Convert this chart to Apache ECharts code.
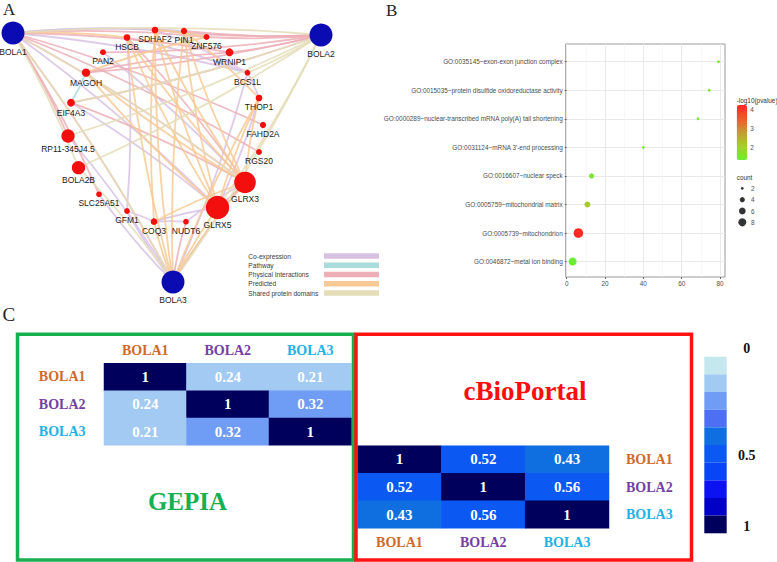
<!DOCTYPE html>
<html><head><meta charset="utf-8">
<script src="https://cdn.jsdelivr.net/npm/echarts@6/dist/echarts.min.js"></script>
<style>html,body{margin:0;padding:0;background:#fff}#c{width:777px;height:562px}</style>
</head><body><div id="c"></div>
<script>
// ---------------- Panel A : gene network ----------------
const netNodes = ['BOLA1','BOLA2','BOLA3','SDHAF2','PIN1','ZNF576','HSCB','WRNIP1','PAN2','BCS1L','MAGOH','THOP1','EIF4A3','FAHD2A','RP11-345J4.5','RGS20','BOLA2B','GLRX3','SLC25A51','GLRX5','GFM1','COQ3','NUDT6'];
const netX = [13,321,173,155,184,206.5,127,229.5,103,247.5,86,259,71,263,68,259,78.5,245,99,217.5,127,154,186];
const netY = [33,35,282,30,31,37,37.5,52.3,52.3,72.7,72.7,98,102.7,125,136,152,167.7,182.5,194.3,207.5,211,221.7,221.7];
const netRole = ['query','query','query','gene','gene','gene','gene','gene','gene','gene','gene','gene','gene','gene','gene','gene','gene','gene','gene','gene','gene','gene','gene'];
const netScore = [1,1,1,0.09,0.07,0.05,0.09,0.15,0.05,0.04,0.18,0.09,0.15,0.07,0.45,0.05,0.45,0.9,0.04,0.99,0.04,0.09,0.04];
const edgeTypes = ['Co-expression','Pathway','Physical Interactions','Predicted','Shared protein domains'];
const coexpEdges = [['BOLA1','SDHAF2'],['BOLA1','PIN1'],['BOLA1','BCS1L'],['BOLA1','GLRX5'],['HSCB','GFM1'],['BCS1L','THOP1'],['BCS1L','BOLA3'],['SDHAF2','BCS1L'],['PAN2','GLRX3'],['EIF4A3','GLRX5'],['GFM1','COQ3'],['COQ3','GLRX5'],['NUDT6','GLRX3'],['RP11-345J4.5','BOLA3'],['THOP1','GLRX5'],['BOLA3','GFM1'],['COQ3','NUDT6'],['HSCB','BCS1L'],['BOLA3','SLC25A51']];
const pathwayEdges = [['MAGOH','EIF4A3']];
const physEdges = [['BOLA2','PIN1'],['BOLA2','ZNF576'],['BOLA2','WRNIP1'],['BOLA2','SDHAF2'],['BOLA2','MAGOH'],['BOLA2','EIF4A3'],['BOLA2','PAN2'],['BOLA1','WRNIP1'],['BOLA1','ZNF576'],['BOLA1','GLRX3'],['BOLA1','FAHD2A'],['BOLA1','RGS20'],['BOLA1','RP11-345J4.5'],['BOLA1','BOLA3'],['BOLA1','SLC25A51'],['BOLA3','NUDT6'],['BOLA3','GLRX3'],['MAGOH','WRNIP1'],['GLRX3','GLRX5'],['EIF4A3','GLRX3'],['HSCB','GLRX3']];
const predEdges = [['GLRX5','SDHAF2'],['GLRX5','PIN1'],['GLRX5','HSCB'],['GLRX3','SDHAF2'],['GLRX3','PIN1'],['GLRX3','HSCB'],['GLRX3','MAGOH'],['GLRX5','THOP1'],['GLRX3','THOP1'],['BOLA3','HSCB'],['BOLA3','SDHAF2'],['BOLA3','PIN1'],['BOLA3','THOP1'],['BOLA3','COQ3'],['BOLA3','GLRX3'],['BOLA3','GLRX5'],['BOLA1','HSCB'],['SDHAF2','ZNF576'],['PIN1','THOP1'],['GLRX5','MAGOH'],['COQ3','GLRX3'],['COQ3','SDHAF2'],['MAGOH','ZNF576']];
const sharedEdges = [['BOLA1','BOLA2'],['BOLA1','BOLA3'],['BOLA2','BOLA3'],['BOLA2','GLRX5'],['BOLA1','BOLA2B'],['BOLA2B','BOLA3'],['BOLA2','BOLA2B'],['BOLA2','RP11-345J4.5'],['BOLA2','EIF4A3'],['BOLA1','GLRX3'],['BOLA2','BCS1L']];

// ---------------- Panel B : GO enrichment ----------------
const goTerms = ['GO:0035145~exon-exon junction complex','GO:0015035~protein disulfide oxidoreductase activity','GO:0000289~nuclear-transcribed mRNA poly(A) tail shortening','GO:0031124~mRNA 3\'-end processing','GO:0016607~nuclear speck','GO:0005759~mitochondrial matrix','GO:0005739~mitochondrion','GO:0046872~metal ion binding'];
const goEnrich = [79.2,74.4,68.5,40.0,13.0,10.8,6.1,3.1];
const goCount = [2,2,2,2,4,5,11,8];
const goLogP = [1.5,1.62,1.55,1.45,1.6,2.15,4.23,1.37];
const bXTicks = [0,20,40,60,80];
const bMinorTicks = [10,30,50,70];
const pTicks = [2,3,4];
const countLegend = [2,4,6,8];

// ---------------- Panel C : correlation heatmaps ----------------
const genes = ['BOLA1','BOLA2','BOLA3'];
const gepiaCor = [[1,0.24,0.21],[0.24,1,0.32],[0.21,0.32,1]];
const cbioCor = [[1,0.52,0.43],[0.52,1,0.56],[0.43,0.56,1]];
const bandEdges = [0,0.1,0.3,0.36,0.4,0.5,0.6,0.7,0.8,0.9,1.0001];
const scaleLabels = ['0','0.5','1'];
const scaleLabelPos = [-0.48,5.57,9.6];

// ---------------- styles ----------------
const SANS = "'Liberation Sans', Arial, sans-serif";
const SERIF = "'Liberation Serif', 'Times New Roman', serif";
const edgeColors = ['#d8c2e4','#a9dcda','#edaeb6','#f8c994','#e4ddb8'];
const bandColors = ['#c5e8ee','#a2caf2','#6f9cf5','#4d70f2','#0f6fe0','#0b58f2','#0745f6','#0c12f2','#0000c6','#00005c'];
const geneColor = {BOLA1:'#cf6a2c', BOLA2:'#7440a2', BOLA3:'#1fb1e6'};
const goSize = c => Math.sqrt(Math.max(9.36 * c - 10.88, 1));

const idx = {}; netNodes.forEach((n,i)=>idx[n]=i);
const edgeSets = [coexpEdges, pathwayEdges, physEdges, predEdges, sharedEdges];

const series = [];
edgeSets.forEach((set, k) => {
  series.push({
    type:'lines', name: edgeTypes[k], coordinateSystem:'cartesian2d', xAxisIndex:0, yAxisIndex:0,
    silent:true, z:1,
    lineStyle:{color: edgeColors[k], width:1.8, opacity:0.85, curveness:0.04},
    itemStyle:{color: edgeColors[k]},
    data: set.map(([a,b]) => ({coords:[[netX[idx[a]], netY[idx[a]]],[netX[idx[b]], netY[idx[b]]]]}))
  });
});
series.push({
  type:'scatter', xAxisIndex:0, yAxisIndex:0, z:3, silent:true,
  data: netNodes.map((n,i)=>({name:n, value:[netX[i], netY[i]],
     label: (i<2 ? {distance:3} : undefined)})),
  symbolSize: (v, p) => netRole[p.dataIndex]==='query' ? 23 : 5 + 18.5*netScore[p.dataIndex],
  itemStyle:{color: p => netRole[p.dataIndex]==='query' ? '#0b0bb4' : '#f40f0f', opacity:1},
  label:{show:true, position:'bottom', distance:1.5, formatter:'{b}', fontSize:8.5, fontFamily:SANS, color:'#1a1a1a'}
});
const goSeriesIndex = series.length;
series.push({
  type:'scatter', xAxisIndex:1, yAxisIndex:1, z:3, silent:true,
  data: goTerms.map((t,i)=>[goEnrich[i], goTerms.length - i, goLogP[i], goCount[i]]),
  symbolSize: v => goSize(v[3]),
  itemStyle:{opacity:1}
});
series.push({
  type:'scatter', xAxisIndex:4, yAxisIndex:3, silent:true,
  data: countLegend.map((c,i)=>[0,i,c]),
  symbolSize: v => goSize(v[2]),
  itemStyle:{color:'#000'}
});
const heatIdx = [series.length, series.length+1];
function heatData(m){ const d=[]; m.forEach((row,r)=>row.forEach((v,c)=>d.push([c,r,v]))); return d; }
const heatLabel = {show:true, color:'#fff', fontSize:15, fontWeight:'bold', fontFamily:SERIF, formatter: p => String(p.value[2])};
series.push({type:'heatmap', xAxisIndex:5, yAxisIndex:4, data: heatData(gepiaCor), label:heatLabel, silent:true});
series.push({type:'heatmap', xAxisIndex:6, yAxisIndex:5, data: heatData(cbioCor), label:heatLabel, silent:true});
bandColors.forEach((col,i) => {
  series.push({type:'bar', xAxisIndex:7, yAxisIndex:6, stack:'cb', data:[1], barWidth:'100%', silent:true, itemStyle:{color:col}});
});

const option = {
  animation:false,
  backgroundColor:'#fff',
  grid:[
    {left:0, top:0, width:340, height:300},
    {left:565.7, top:44, width:159.3, height:233, show:true, borderColor:'#9a9a9a', borderWidth:1, backgroundColor:'#fff'},
    {left:736.7, top:105, width:10.6, height:55},
    {left:736.7, top:182.7, width:11.2, height:45.3},
    {left:104, top:363.3, width:247.5, height:82},
    {left:357.5, top:445.7, width:251.5, height:82.6},
    {left:704.3, top:346.1, width:22.4, height:187.2}
  ],
  xAxis:[
    {gridIndex:0, type:'value', min:0, max:340, show:false},
    {gridIndex:1, type:'value', min:-0.52, max:82.6,
      axisLine:{show:false},
      axisTick:{show:true, customValues:bXTicks, length:2, lineStyle:{color:'#444', width:0.8}},
      axisLabel:{customValues:bXTicks, fontSize:6.4, fontFamily:SANS, color:'#4d4d4d', margin:3.5},
      splitLine:{show:true, customValues:bXTicks, lineStyle:{color:'#e6e6e6', width:0.9}}},
    {gridIndex:1, type:'value', min:-0.52, max:82.6,
      axisLine:{show:false}, axisLabel:{show:false},
      axisTick:{show:false, customValues:bMinorTicks},
      splitLine:{show:true, customValues:bMinorTicks, lineStyle:{color:'#f3f3f3', width:0.6}}},
    {gridIndex:2, type:'value', show:false},
    {gridIndex:3, type:'value', min:-1, max:1, show:false},
    {gridIndex:4, type:'category', data:genes, position:'top',
      axisLine:{show:false}, axisTick:{show:false},
      axisLabel:{margin:6, fontSize:14, fontWeight:'bold', fontFamily:SERIF, color:(v)=>geneColor[v]}},
    {gridIndex:5, type:'category', data:genes, position:'bottom',
      axisLine:{show:false}, axisTick:{show:false},
      axisLabel:{margin:7, fontSize:14, fontWeight:'bold', fontFamily:SERIF, color:(v)=>geneColor[v]}},
    {gridIndex:6, type:'category', data:['scale'], show:false}
  ],
  yAxis:[
    {gridIndex:0, type:'value', min:0, max:300, inverse:true, show:false},
    {gridIndex:1, type:'value', min:0.46, max:8.62,
      axisLine:{show:false},
      axisTick:{show:true, customValues:[1,2,3,4,5,6,7,8], length:2, lineStyle:{color:'#444', width:0.8}},
      axisLabel:{customValues:[1,2,3,4,5,6,7,8], formatter:(v)=>goTerms[goTerms.length - Math.round(v)] || '', fontSize:6.4, fontFamily:SANS, color:'#4d4d4d', margin:3},
      splitLine:{show:true, customValues:[1,2,3,4,5,6,7,8], lineStyle:{color:'#e6e6e6', width:0.9}}},
    {gridIndex:2, type:'value', min:1.37, max:4.23, position:'right', z:10,
      axisLine:{show:false},
      axisTick:{show:true, inside:true, customValues:pTicks, length:2.5, lineStyle:{color:'#fff', width:0.8}},
      axisLabel:{customValues:pTicks, fontSize:6.4, fontFamily:SANS, color:'#4d4d4d', margin:3},
      splitLine:{show:false}},
    {gridIndex:3, type:'category', data:countLegend.map(String), inverse:true, position:'right',
      axisLine:{show:false}, axisTick:{show:false},
      axisLabel:{fontSize:6.4, fontFamily:SANS, color:'#4d4d4d', margin:3}},
    {gridIndex:4, type:'category', data:genes, inverse:true, position:'left',
      axisLine:{show:false}, axisTick:{show:false},
      axisLabel:{margin:18.5, fontSize:14, fontWeight:'bold', fontFamily:SERIF, color:(v)=>geneColor[v]}},
    {gridIndex:5, type:'category', data:genes, inverse:true, position:'right',
      axisLine:{show:false}, axisTick:{show:false},
      axisLabel:{margin:17, fontSize:14, fontWeight:'bold', fontFamily:SERIF, color:(v)=>geneColor[v]}},
    {gridIndex:6, type:'value', min:-0.6, max:10, inverse:true, position:'right',
      axisLine:{show:false}, axisTick:{show:false}, splitLine:{show:false},
      axisLabel:{customValues:scaleLabelPos, formatter:(v)=>scaleLabels[scaleLabelPos.indexOf(v)], align:'center', margin:20,
        fontSize:14, fontWeight:'bold', fontFamily:SERIF, color:'#111'}}
  ],
  visualMap:[
    {type:'continuous', seriesIndex:goSeriesIndex, dimension:2, min:1.37, max:4.23,
      inRange:{color:['#6aee34','#a6cf24','#c49a3a','#ec5a30','#ff2a22']},
      left:736.7, top:105, padding:0, itemWidth:10.6, itemHeight:55, calculable:false, text:null, realtime:false},
    {type:'piecewise', seriesIndex:heatIdx, dimension:2, show:false,
      pieces: bandColors.map((c,i)=>({gte:bandEdges[i], lt:bandEdges[i+1], color:c}))}
  ],
  legend:{
    orient:'vertical', left:248.3, top:252.5, padding:0, itemGap:2.25, align:'right',
    icon:'rect', itemWidth:53, itemHeight:3.3, selectedMode:false,
    data: edgeTypes.map((n,k)=>({name:n, itemStyle:{color:edgeColors[k]}})),
    formatter: n => '{t|' + n + '}',
    textStyle:{rich:{t:{width:71.7, align:'left', fontSize:6.6, lineHeight:8, fontFamily:SANS, color:'#3a3a3a'}}}
  },
  graphic:[
    {type:'text', x:3, y:1, style:{text:'A', fontSize:17, fontFamily:SERIF, fill:'#222'}},
    {type:'text', x:386, y:2, style:{text:'B', fontSize:17, fontFamily:SERIF, fill:'#222'}},
    {type:'text', x:2.5, y:305, style:{text:'C', fontSize:19, fontFamily:SERIF, fill:'#222'}},
    {type:'text', x:736.7, y:100, style:{text:'-log10(pvalue)', fontSize:6.4, fontFamily:SANS, fill:'#333', verticalAlign:'middle'}},
    {type:'text', x:736.7, y:177.7, style:{text:'count', fontSize:6.4, fontFamily:SANS, fill:'#333', verticalAlign:'middle'}},
    {type:'rect', shape:{x:17.5, y:334.3, width:336, height:225.7}, style:{fill:'none', stroke:'#17b04f', lineWidth:3.5}, z:5},
    {type:'rect', shape:{x:356, y:334.3, width:335.5, height:225.7}, style:{fill:'none', stroke:'#ff1212', lineWidth:3.5}, z:5},
    {type:'text', x:187.5, y:501.7, style:{text:'GEPIA', fontSize:25, fontWeight:'bold', fontFamily:SERIF, fill:'#17b04f', align:'center', verticalAlign:'middle'}},
    {type:'text', x:525, y:390.7, style:{text:'cBioPortal', fontSize:27, fontWeight:'bold', fontFamily:SERIF, fill:'#ff0d0d', align:'center', verticalAlign:'middle'}}
  ],
  series: series
};
const chart = echarts.init(document.getElementById('c'), null, {renderer:'svg', width:777, height:562});
chart.setOption(option);
</script>
</body></html>
